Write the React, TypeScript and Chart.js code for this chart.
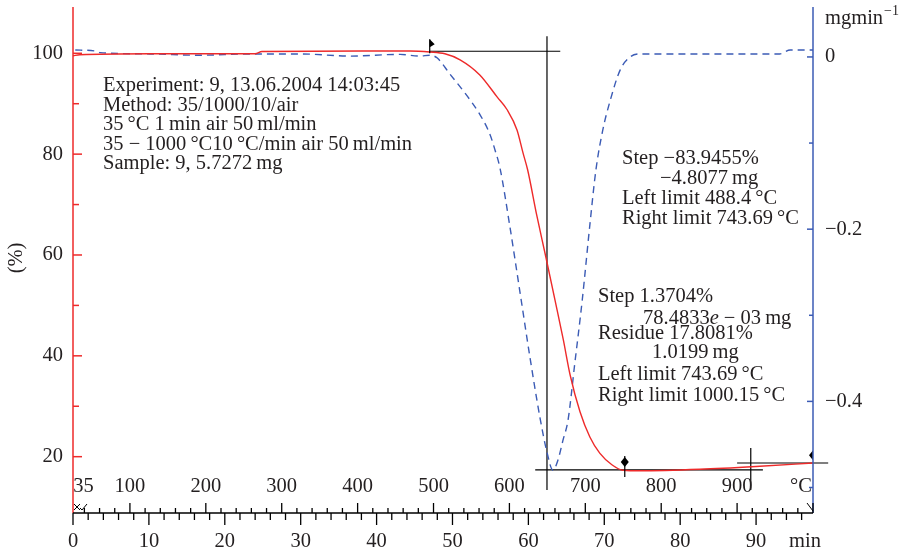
import React, { useEffect, useRef } from "react";
import { Chart, registerables } from "chart.js";

Chart.register(...registerables);

// ---- Data ----
// TGA curve: time (min) vs mass (%)
const tgaTime = [0, 0.9, 10.1, 24.0, 24.9, 40.4, 44.4, 47.0, 49.0, 51.0, 53.6, 55.9, 57.2, 58.5, 59.3, 59.9, 61.1, 62.3, 63.5, 64.6, 65.5, 66.8, 68.1, 69.4, 71.0, 72.5, 74.7, 82.6, 90.5, 97.5];
const tgaPct = [99.5, 99.7, 99.9, 99.9, 100.35, 100.45, 100.45, 100.25, 99.9, 98.7, 95.7, 91.3, 88.8, 84.8, 80.2, 76.9, 67.9, 59.6, 51.1, 43.2, 36.2, 28.9, 23.9, 20.7, 18.4, 17.3, 17.2, 17.5, 18.1, 18.75];

// DTG curve: time (min) vs rate (mg/min)
const dtgTime = [0.3, 2.9, 3.6, 10.1, 16.7, 23.3, 29.9, 36.5, 43.1, 45.7, 47.0, 47.96, 49.67, 51.65, 53.62, 54.94, 55.6, 56.26, 57.58, 58.89, 60.21, 61.53, 62.45, 63.24, 63.9, 64.56, 65.22, 66.1, 67.1, 68.1, 68.9, 69.8, 70.8, 72.1, 73.4, 74.7, 82.6, 93.1, 94.5, 97.5];
const dtgRate = [0.008, 0.007, 0.005, 0.0035, 0.002, 0.0035, 0.0035, 0.001, 0.003, 0.001, 0.002, -0.001, -0.02, -0.042, -0.067, -0.09, -0.108, -0.129, -0.198, -0.273, -0.349, -0.419, -0.459, -0.48, -0.468, -0.445, -0.422, -0.357, -0.282, -0.195, -0.131, -0.085, -0.05, -0.015, 0, 0.0035, 0.0035, 0.0035, 0.008, 0.008];

// Axis ticks / labels
const pctTicks = [20, 40, 60, 80, 100];
const pctMinorTicks = [30, 50, 70, 90];
const rateTicks = [0, -0.2, -0.4];
const rateMinorTicks = [-0.1, -0.3, -0.5];
const timeTicks = [0, 10, 20, 30, 40, 50, 60, 70, 80, 90];
const tempLabels = [35, 100, 200, 300, 400, 500, 600, 700, 800, 900];

// Temperature program: 35 °C for 1 min, then 10 °C/min
const startTemp = 35;
const holdMin = 1;
const heatRate = 10;

// Evaluation annotations (time in min, mass in %)
const onsetLineTime = [47.0, 64.2];
const onsetLinePct = 100.4;
const inflectionTime = 62.45;
const inflectionPct = [103.4, 13.4];
const residueLineTime = [60.9, 90.9];
const residueLinePct = 17.4;
const endLineTime = [87.5, 99.5];
const endLinePct = 18.75;
const endCrossTime = 89.3;
const endCrossPct = [21.7, 13.4];
const flagMarker = { t: 47.0, pct: 100.4 };
const diamondMarkers = [
  { t: 72.7, pct: 18.95 },
  { t: 97.5, pct: 20.3 },
];

const infoLines = [
  "Experiment: 9, 13.06.2004 14:03:45",
  "Method: 35/1000/10/air",
  "35\u2009°C 1\u2009min air 50\u2009ml/min",
  "35 \u2212 1000\u2009°C10\u2009°C/min air 50\u2009ml/min",
  "Sample: 9, 5.7272\u2009mg",
];

const RED = "#ee2a2a";
const BLUE = "#3b5bb5";
const TEXT = "#231f20";
const FONT = '"Liberation Serif", "DejaVu Serif", serif';
const FS = 20.5;

function tempToTime(T: number) {
  return holdMin + (T - startTemp) / heatRate;
}

const overlayPlugin = {
  id: "tgaOverlay",
  beforeDatasetsDraw(chart: any) {
    const { ctx, scales } = chart;
    const x = scales.x, y = scales.y;
    const X = (t: number) => x.getPixelForValue(t);
    const Y = (p: number) => y.getPixelForValue(p);
    ctx.save();
    ctx.strokeStyle = "#000";
    ctx.lineWidth = 1.2;
    const seg = (x1: number, y1: number, x2: number, y2: number) => {
      ctx.beginPath();
      ctx.moveTo(x1, y1);
      ctx.lineTo(x2, y2);
      ctx.stroke();
    };
    seg(X(onsetLineTime[0]), Y(onsetLinePct), X(onsetLineTime[1]), Y(onsetLinePct));
    seg(X(inflectionTime), Y(inflectionPct[0]), X(inflectionTime), Y(inflectionPct[1]));
    seg(X(residueLineTime[0]), Y(residueLinePct), X(residueLineTime[1]), Y(residueLinePct));
    seg(X(endLineTime[0]), Y(endLinePct), X(endLineTime[1]), Y(endLinePct));
    seg(X(endCrossTime), Y(endCrossPct[0]), X(endCrossTime), Y(endCrossPct[1]));
    ctx.restore();
  },
  afterDraw(chart: any) {
    const { ctx, scales, chartArea } = chart;
    const x = scales.x, y = scales.y, y1 = scales.y1;
    const X = (t: number) => x.getPixelForValue(t);
    const Y = (p: number) => y.getPixelForValue(p);
    const Y1 = (r: number) => y1.getPixelForValue(r);
    const L = chartArea.left, R = chartArea.right, T = chartArea.top, B = chartArea.bottom;
    ctx.save();

    const seg = (x1: number, yA: number, x2: number, yB: number) => {
      ctx.beginPath();
      ctx.moveTo(x1, yA);
      ctx.lineTo(x2, yB);
      ctx.stroke();
    };

    // markers
    ctx.fillStyle = "#000";
    ctx.strokeStyle = "#000";
    ctx.lineWidth = 1.2;
    {
      const fx = X(flagMarker.t), fy = Y(flagMarker.pct);
      seg(fx, fy + 2, fx, fy - 12);
      ctx.beginPath();
      ctx.moveTo(fx, fy - 12);
      ctx.lineTo(fx + 5, fy - 7);
      ctx.lineTo(fx, fy - 4);
      ctx.closePath();
      ctx.fill();
    }
    diamondMarkers.forEach((m, i) => {
      const mx = X(m.t), my = Y(m.pct);
      if (i === 0) seg(mx, my - 6, mx, my + 15);
      ctx.beginPath();
      ctx.moveTo(mx, my - 5);
      ctx.lineTo(mx + (i === 0 ? 4 : 0), my);
      ctx.lineTo(mx, my + 5);
      ctx.lineTo(mx - 4, my);
      ctx.closePath();
      ctx.fill();
    });

    // left axis (red)
    ctx.strokeStyle = RED;
    ctx.lineWidth = 1.5;
    seg(L, T, L, B);
    pctTicks.forEach((v) => seg(L, Y(v), L + 9, Y(v)));
    pctMinorTicks.forEach((v) => seg(L, Y(v), L + 6, Y(v)));

    // right axis (blue)
    ctx.strokeStyle = BLUE;
    seg(R, T, R, B);
    rateTicks.forEach((v) => seg(R, Y1(v), R - 6, Y1(v)));
    rateMinorTicks.forEach((v) => seg(R, Y1(v), R - 4, Y1(v)));

    // bottom axis (black)
    ctx.strokeStyle = "#000";
    ctx.lineWidth = 1.3;
    seg(L, B, R, B);
    for (let t = 0; t <= 96; t += 2) {
      const len = t % 10 === 0 ? 12 : 7;
      seg(X(t), B, X(t), B + len);
    }
    for (let Tc = 40; Tc <= 1000; Tc += 20) {
      const tt = tempToTime(Tc);
      if (X(tt) > R + 0.5) break;
      const len = Tc % 100 === 0 ? 10 : 5;
      seg(X(tt), B, X(tt), B - len);
    }
    // small symbols near origin and end
    ctx.lineWidth = 1;
    seg(L + 1, B - 9, L + 7, B - 3);
    seg(L + 1, B - 3, L + 7, B - 9);
    seg(L + 7, B - 5, L + 9, B - 3);
    seg(L + 9, B - 3, L + 14, B - 9);
    seg(R - 6, B - 10, R, B - 2);

    // texts
    ctx.fillStyle = TEXT;
    ctx.font = `${FS}px ${FONT}`;
    ctx.textBaseline = "middle";
    ctx.textAlign = "right";
    pctTicks.forEach((v) => ctx.fillText(String(v), L - 10, Y(v)));
    ctx.textAlign = "left";
    rateTicks.forEach((v) =>
      ctx.fillText(v === 0 ? "0" : "\u2212" + Math.abs(v).toFixed(1), R + 12, Y1(v))
    );
    ctx.textAlign = "center";
    timeTicks.forEach((t) => ctx.fillText(String(t), X(t), B + 29));
    tempLabels.forEach((Tc) => {
      const tx = X(tempToTime(Tc));
      ctx.fillText(String(Tc), Tc === 35 ? tx + 3 : tx, B - 26);
    });
    ctx.fillText("°C", R - 12, B - 26);
    ctx.fillText("min", R - 8, B + 29);

    // axis titles
    ctx.save();
    ctx.translate(17, 258);
    ctx.rotate(-Math.PI / 2);
    ctx.fillText("(%)", 0, 0);
    ctx.restore();
    ctx.textAlign = "left";
    ctx.textBaseline = "alphabetic";
    ctx.fillText("mgmin", R + 12, 24);
    const mw = ctx.measureText("mgmin").width;
    ctx.font = `14px ${FONT}`;
    ctx.fillText("\u22121", R + 12 + mw + 1, 15);

    // info blocks
    ctx.font = `${FS}px ${FONT}`;
    infoLines.forEach((s, i) => ctx.fillText(s, 103, 91 + i * 19.6));

    ctx.fillText("Step \u221283.9455%", 622, 164);
    ctx.fillText("\u22124.8077\u2009mg", 660, 184);
    ctx.fillText("Left limit 488.4\u2009°C", 622, 204);
    ctx.fillText("Right limit 743.69\u2009°C", 622, 224);

    ctx.fillText("Step 1.3704%", 598, 302);
    {
      let px = 643;
      const a = "78.4833";
      ctx.fillText(a, px, 324);
      px += ctx.measureText(a).width;
      ctx.font = `italic ${FS}px ${FONT}`;
      ctx.fillText("e", px, 324);
      px += ctx.measureText("e").width;
      ctx.font = `${FS}px ${FONT}`;
      ctx.fillText(" \u2212 03\u2009mg", px, 324);
    }
    ctx.fillText("Residue 17.8081%", 598, 339);
    ctx.fillText("1.0199\u2009mg", 652, 358);
    ctx.fillText("Left limit 743.69\u2009°C", 598, 380);
    ctx.fillText("Right limit 1000.15\u2009°C", 598, 401);

    ctx.restore();
  },
};

export default function App() {
  const ref = useRef<HTMLCanvasElement | null>(null);
  useEffect(() => {
    if (!ref.current) return;
    const chart = new Chart(ref.current, {
      type: "line",
      data: {
        datasets: [
          {
            label: "TGA (%)",
            data: tgaTime.map((t, i) => ({ x: t, y: tgaPct[i] })),
            borderColor: RED,
            borderWidth: 1.4,
            pointRadius: 0,
            cubicInterpolationMode: "monotone",
            yAxisID: "y",
          },
          {
            label: "DTG (mg/min)",
            data: dtgTime.map((t, i) => ({ x: t, y: dtgRate[i] })),
            borderColor: BLUE,
            borderWidth: 1.4,
            borderDash: [7, 5],
            pointRadius: 0,
            cubicInterpolationMode: "monotone",
            yAxisID: "y1",
          },
        ],
      },
      options: {
        responsive: false,
        animation: false,
        layout: { padding: { left: 73, right: 93, top: 7, bottom: 43 } },
        plugins: { legend: { display: false }, tooltip: { enabled: false } },
        scales: {
          x: { type: "linear", min: 0, max: 97.5, display: false },
          y: { type: "linear", min: 8.83, max: 109.18, display: false },
          y1: { type: "linear", min: -0.5296, max: 0.058, display: false },
        },
      },
      plugins: [overlayPlugin],
    });
    return () => chart.destroy();
  }, []);
  return (
    <div style={{ position: "absolute", left: 0, top: 0, width: 906, height: 556, background: "#fff" }}>
      <canvas ref={ref} width={906} height={556} style={{ width: 906, height: 556 }} />
    </div>
  );
}
